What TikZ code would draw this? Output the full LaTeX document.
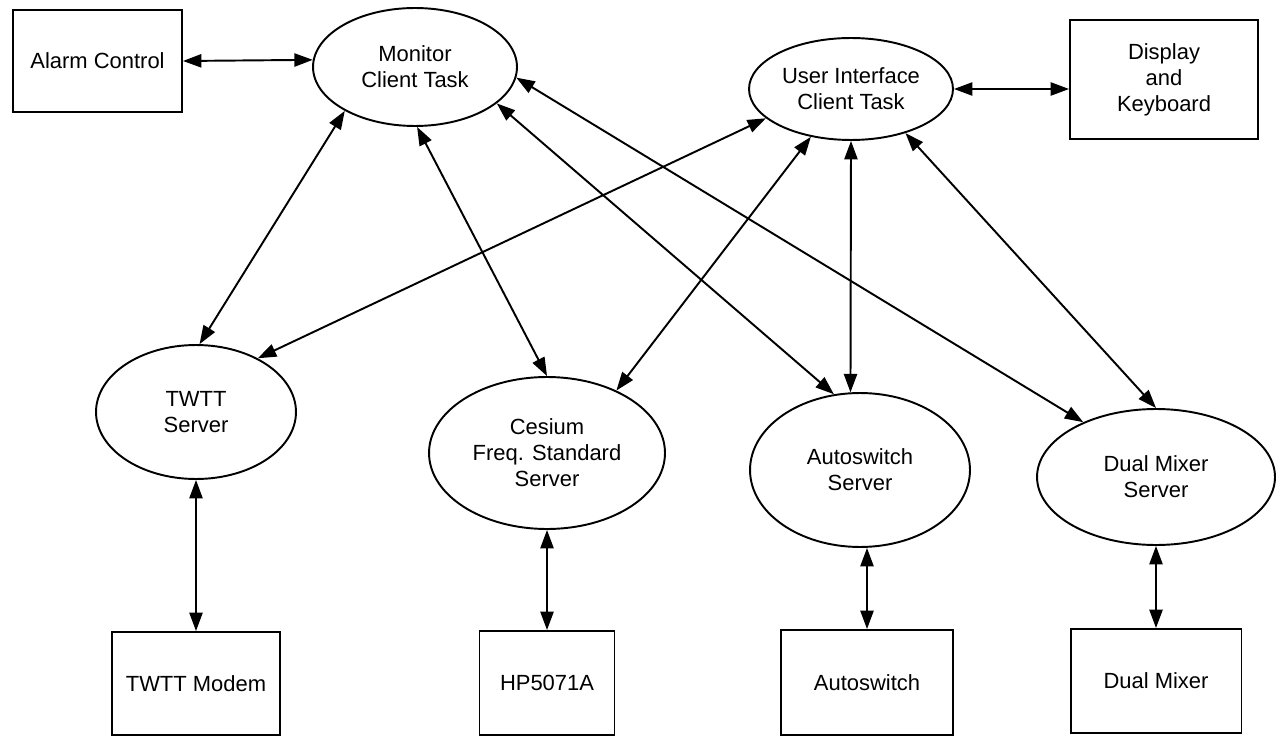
\documentclass[tikz,border=0pt]{standalone}
\usepackage{fontspec}
\setmainfont{Liberation Sans}
\usetikzlibrary{shapes.geometric,arrows.meta}
\begin{document}
\begin{tikzpicture}[x=0.02cm,y=-0.02cm,
  txt/.style={font=\fontsize{12.5}{14.8}\selectfont},
  box/.style={draw,line width=1.1pt,inner sep=0pt,align=center,txt},
  oval/.style={draw,ellipse,line width=1.1pt,inner sep=0pt,align=center,txt},
  link/.style={line width=1.1pt,{Triangle[length=10.5pt,width=7.5pt]}-{Triangle[length=10.5pt,width=7.5pt]}}]
\useasboundingbox (0,0) rectangle (1283,736);
% nodes
\node[box, minimum width=3.38cm, minimum height=2.04cm] (alarm) at (97.5,61) {Alarm Control};
\node[oval, minimum width=4.08cm, minimum height=2.36cm] (mon) at (415,67) {Monitor\\Client Task};
\node[oval, minimum width=4.08cm, minimum height=2.04cm] (ui) at (851,89) {User Interface\\Client Task};
\node[box, minimum width=3.76cm, minimum height=2.38cm] (disp) at (1164,79.5) {Display\\and\\Keyboard};
\node[oval, minimum width=4.0cm, minimum height=2.68cm] (twtts) at (196,412) {TWTT\\Server};
\node[oval, minimum width=4.72cm, minimum height=3.04cm] (cs) at (547,453) {Cesium\\Freq. Standard\\Server};
\node[oval, minimum width=4.4cm, minimum height=3.08cm] (asws) at (860,470) {Autoswitch\\Server};
\node[oval, minimum width=4.76cm, minimum height=2.72cm] (dms) at (1156,477) {Dual Mixer\\Server};
\node[box, minimum width=3.36cm, minimum height=2.06cm] (modem) at (196,683.5) {TWTT Modem};
\node[box, minimum width=2.7cm, minimum height=2.08cm] (hp) at (547,683) {HP5071A};
\node[box, minimum width=3.44cm, minimum height=2.1cm] (asw) at (867,682.5) {Autoswitch};
\node[box, minimum width=3.42cm, minimum height=2.08cm] (dm) at (1156,681) {Dual Mixer};
% connectors
\draw[link] (alarm.east) -- (mon.176);
\draw[link] (ui.east) -- (ui.east -| disp.west);
\draw[link] (mon.-148) -- (twtts.87);
\draw[link] (mon.-88) -- (cs.90);
\draw[link] (mon.-24) -- (asws.109);
\draw[link] (mon.-6) -- (dms.143);
\draw[link] (ui.-161) -- (twtts.41);
\draw[link] (ui.-130) -- (cs.42);
\draw[link] (ui.-90) -- (asws.97);
\draw[link] (ui.-39) -- (dms.90);
\draw[link] (twtts.south) -- (modem.north);
\draw[link] (cs.south) -- (hp.north);
\draw[link] (asw.north |- asws.south) -- (asw.north);
\draw[link] (dms.south) -- (dm.north);
\end{tikzpicture}
\end{document}
